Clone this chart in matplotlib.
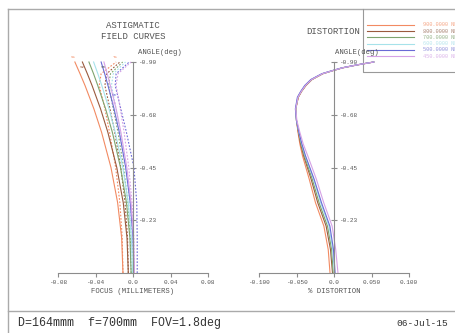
import matplotlib
import matplotlib.pyplot as plt

matplotlib.use("Agg")

# Field angle samples (deg) for the astigmatic field curves
FIELD_ANGLE = [0.0, 0.15, 0.3, 0.45, 0.6, 0.7, 0.8, 0.85, 0.9]

# Sagittal focus (mm), one list per wavelength
SAG_900 = [-0.0107, -0.0121, -0.0164, -0.0235, -0.0335, -0.0417, -0.0512, -0.0565, -0.0620]
SAG_800 = [-0.0050, -0.0064, -0.0104, -0.0173, -0.0268, -0.0346, -0.0437, -0.0487, -0.0540]
SAG_700 = [-0.0020, -0.0033, -0.0070, -0.0133, -0.0220, -0.0292, -0.0376, -0.0421, -0.0470]
SAG_600 = [-0.0005, -0.0017, -0.0051, -0.0109, -0.0189, -0.0256, -0.0333, -0.0375, -0.0420]
SAG_500 = [0.0010, 0.0000, -0.0029, -0.0078, -0.0146, -0.0202, -0.0267, -0.0302, -0.0340]
SAG_450 = [0.0015, 0.0006, -0.0021, -0.0066, -0.0129, -0.0180, -0.0242, -0.0275, -0.0310]

# Tangential focus (mm)
TAN_900 = [-0.0107, -0.0115, -0.0140, -0.0185, -0.0250, -0.0300, -0.0360, -0.0340, -0.0180]
TAN_800 = [-0.0050, -0.0058, -0.0085, -0.0130, -0.0195, -0.0245, -0.0300, -0.0280, -0.0140]
TAN_700 = [-0.0020, -0.0028, -0.0055, -0.0100, -0.0160, -0.0210, -0.0260, -0.0240, -0.0110]
TAN_600 = [0.0000, -0.0008, -0.0035, -0.0078, -0.0135, -0.0180, -0.0230, -0.0210, -0.0080]
TAN_500 = [0.0045, 0.0045, 0.0040, 0.0010, -0.0070, -0.0130, -0.0190, -0.0180, -0.0040]
TAN_450 = [0.0015, 0.0010, -0.0010, -0.0045, -0.0095, -0.0135, -0.0180, -0.0160, -0.0020]

# Field angle samples (deg) for the distortion curves
DIST_ANGLE = [0.0, 0.1, 0.2, 0.3, 0.4, 0.5, 0.55, 0.6, 0.65, 0.7, 0.75, 0.775,
              0.8, 0.825, 0.85, 0.8625, 0.875, 0.8875, 0.9]

# % distortion per wavelength
DIST_900 = [-0.0053, -0.0077, -0.0135, -0.0247, -0.0330, -0.0420, -0.0455, -0.0480, -0.0500,
            -0.0510, -0.0475, -0.0430, -0.0372, -0.0292, -0.0147, -0.0020, 0.0115, 0.0310, 0.0530]
DIST_800 = [-0.0020, -0.0047, -0.0105, -0.0217, -0.0305, -0.0405, -0.0445, -0.0475, -0.0500,
            -0.0510, -0.0477, -0.0433, -0.0376, -0.0296, -0.0151, -0.0023, 0.0113, 0.0308, 0.0530]
DIST_700 = [-0.0010, -0.0032, -0.0087, -0.0199, -0.0290, -0.0395, -0.0438, -0.0470, -0.0500,
            -0.0510, -0.0480, -0.0435, -0.0380, -0.0300, -0.0155, -0.0025, 0.0110, 0.0305, 0.0530]
DIST_600 = [0.0005, -0.0017, -0.0067, -0.0179, -0.0272, -0.0385, -0.0432, -0.0468, -0.0500,
            -0.0512, -0.0483, -0.0438, -0.0383, -0.0303, -0.0157, -0.0028, 0.0108, 0.0303, 0.0530]
DIST_500 = [0.0015, -0.0007, -0.0055, -0.0167, -0.0265, -0.0380, -0.0428, -0.0467, -0.0500,
            -0.0515, -0.0488, -0.0443, -0.0390, -0.0310, -0.0163, -0.0032, 0.0105, 0.0300, 0.0530]
DIST_450 = [0.0053, 0.0023, -0.0025, -0.0137, -0.0235, -0.0350, -0.0410, -0.0455, -0.0495,
            -0.0510, -0.0480, -0.0435, -0.0380, -0.0300, -0.0155, -0.0025, 0.0110, 0.0305, 0.0530]

WAVE_LABELS = ["900.0000 NM", "800.0000 NM", "700.0000 NM",
               "600.0000 NM", "500.0000 NM", "450.0000 NM"]

ANGLE_TICKS = [0.225, 0.45, 0.675, 0.9]
ANGLE_TICK_LABELS = ["-0.23", "-0.45", "-0.68", "-0.90"]
FOCUS_TICKS = [-0.08, -0.04, 0.0, 0.04, 0.08]
FOCUS_TICK_LABELS = ["-0.08", "-0.04", "0.0", "0.04", "0.08"]
DIST_TICKS = [-0.1, -0.05, 0.0, 0.05, 0.1]
DIST_TICK_LABELS = ["-0.100", "-0.050", "0.0", "0.050", "0.100"]

_COLORS = ["#f28a62", "#9a5a3e", "#7ea46e", "#a6e2ea", "#6a6ad6", "#d6a2e6"]
_TEXT_COLORS = ["#f6a888", "#a98474", "#98b48c", "#b8e6ee", "#9494dc", "#dcb6ea"]
_AXIS = "#8c8c8c"
_TEXT = "#555555"
_FONT = "Liberation Mono"

W, H = 456, 333


def px_rect(x0, x1, y_top, y_bot):
    return [x0 / W, (H - y_bot) / H, (x1 - x0) / W, (y_bot - y_top) / H]


def setup_axis(ax, xlim, ticks, tick_labels):
    ax.set_xlim(*xlim)
    ax.set_ylim(0, 0.9)
    ax.patch.set_alpha(0)
    for side in ("top", "left"):
        ax.spines[side].set_visible(False)
    ax.spines["bottom"].set_color(_AXIS)
    ax.spines["bottom"].set_linewidth(0.8)
    ax.spines["right"].set_position(("data", 0))
    ax.spines["right"].set_color(_AXIS)
    ax.spines["right"].set_linewidth(0.8)
    ax.yaxis.tick_right()
    ax.set_yticks(ANGLE_TICKS)
    ax.set_yticklabels(ANGLE_TICK_LABELS)
    ax.set_xticks(ticks)
    ax.set_xticklabels(tick_labels)
    ax.tick_params(axis="y", direction="inout", length=5, width=0.8, color=_AXIS,
                   labelsize=4.3, labelcolor=_TEXT, pad=1)
    ax.tick_params(axis="x", direction="out", length=3, width=0.8, color=_AXIS,
                   labelsize=4.3, labelcolor=_TEXT, pad=2)
    for lab in ax.get_xticklabels() + ax.get_yticklabels():
        lab.set_fontfamily(_FONT)


fig = plt.figure(figsize=(W / 100, H / 100), dpi=100)
fig.patch.set_facecolor("white")

# frame lines
frame = fig.add_axes([0, 0, 1, 1])
frame.set_xlim(0, W)
frame.set_ylim(H, 0)
frame.axis("off")
frame.plot([8, 8], [9, H], color="#aaaaaa", lw=1.0)
frame.plot([8, W], [9, 9], color="#aaaaaa", lw=1.0)
frame.plot([8, W], [311, 311], color="#aaaaaa", lw=1.0)
frame.plot([363, 363, W], [9, 72, 72], color="#999999", lw=0.8)

# astigmatic field curves
ax1 = fig.add_axes(px_rect(58, 208, 62, 273))
setup_axis(ax1, (-0.08, 0.08), FOCUS_TICKS, FOCUS_TICK_LABELS)
sag = [SAG_900, SAG_800, SAG_700, SAG_600, SAG_500, SAG_450]
tan = [TAN_900, TAN_800, TAN_700, TAN_600, TAN_500, TAN_450]
for s, t, c in zip(sag, tan, _COLORS):
    ax1.plot(s, FIELD_ANGLE, color=c, lw=0.8, clip_on=False)
    ax1.plot(t, FIELD_ANGLE, color=c, lw=0.8, ls=(0, (1.5, 1.5)), clip_on=False)
ax1.text(-0.064, 0.915, "S1", fontsize=3, color=_COLORS[0], family=_FONT, ha="center")
ax1.text(-0.019, 0.915, "T1", fontsize=3, color=_COLORS[0], family=_FONT, ha="center")
ax1.text(-0.054, 0.875, "S2", fontsize=3, color=_COLORS[1], family=_FONT, ha="center")
ax1.text(-0.032, 0.875, "S5", fontsize=3, color="#666666", family=_FONT, ha="center")
ax1.text(-0.020, 0.755, "S5", fontsize=3, color=_COLORS[4], family=_FONT, ha="center")
ax1.text(-0.020, 0.720, "S6", fontsize=3, color=_COLORS[5], family=_FONT, ha="center")
ax1.set_xlabel("FOCUS (MILLIMETERS)", fontsize=5.2, color=_TEXT, family=_FONT, labelpad=2)

# distortion
ax2 = fig.add_axes(px_rect(259, 409, 62, 273))
setup_axis(ax2, (-0.1, 0.1), DIST_TICKS, DIST_TICK_LABELS)
dist = [DIST_900, DIST_800, DIST_700, DIST_600, DIST_500, DIST_450]
for d, c in zip(dist, _COLORS):
    ax2.plot(d, DIST_ANGLE, color=c, lw=0.8, clip_on=False)
ax2.set_xlabel("% DISTORTION", fontsize=5.2, color=_TEXT, family=_FONT, labelpad=2)

# titles
frame.text(133, 25, "ASTIGMATIC", fontsize=6.5, color=_TEXT, family=_FONT, ha="center", va="center")
frame.text(133, 36.5, "FIELD CURVES", fontsize=6.5, color=_TEXT, family=_FONT, ha="center", va="center")
frame.text(333, 31, "DISTORTION", fontsize=6.5, color=_TEXT, family=_FONT, ha="center", va="center")
frame.text(160, 52, "ANGLE(deg)", fontsize=5.2, color=_TEXT, family=_FONT, ha="center", va="center")
frame.text(357, 52, "ANGLE(deg)", fontsize=5.2, color=_TEXT, family=_FONT, ha="center", va="center")

# legend
for i, (lab, c, tc) in enumerate(zip(WAVE_LABELS, _COLORS, _TEXT_COLORS)):
    y = 25 + i * 6.2
    frame.plot([367, 414], [y, y], color=c, lw=0.8)
    frame.text(423, y, lab, fontsize=3.8, color=tc, family=_FONT, va="center", clip_on=False)

# footer
frame.text(18, 323, "D=164mmm  f=700mm  FOV=1.8deg", fontsize=8.4, color="#333333",
           family=_FONT, va="center")
frame.text(448, 324, "06-Jul-15", fontsize=6.8, color="#333333", family=_FONT,
           va="center", ha="right")

fig.savefig("out.png", dpi=100)
plt.close(fig)
